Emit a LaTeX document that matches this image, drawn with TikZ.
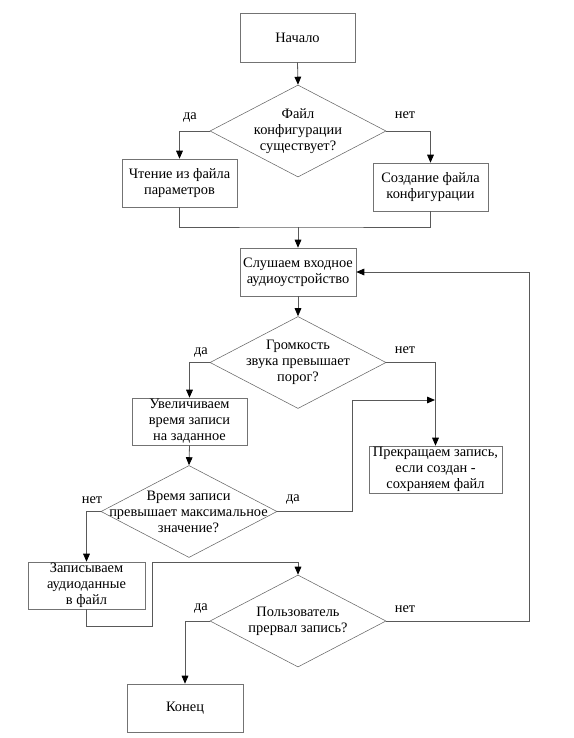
\documentclass[tikz,border=0pt]{standalone}
\usepackage{fontspec}
\setmainfont{Liberation Serif}
\usetikzlibrary{shapes.geometric,arrows.meta}
\tikzset{
  every node/.style={font=\fontsize{10.8pt}{12pt}\selectfont},
  proc/.style={draw=black!55, rectangle, align=center, inner sep=0pt, minimum width=#1},
  proc/.default={115*0.75pt},
  dia/.style={draw=black!60, diamond, inner sep=0pt, minimum width={176*0.75pt}, minimum height={92*0.75pt}},
  dtext/.style={align=center, inner sep=0pt},
  lbl/.style={inner sep=0pt},
  conn/.style={draw=black!65, line width=0.6pt},
  arr/.style={conn, -{Triangle[length=6pt,width=5pt,black]}}
}
\begin{document}
\begin{tikzpicture}[x=0.75pt,y=-0.75pt]
\useasboundingbox (0,0) rectangle (574,738);
\fill[white] (0,0) rectangle (574,738);
% nodes
\node[proc, minimum height={49*0.75pt}] (start) at (297.5,37.5) {Начало};
\node[dia] (d1) at (298,131) {};
\node[dtext] (d1t) at (298,131) {Файл\\конфигурации\\существует?};
\node[proc, minimum height={48*0.75pt}] (read) at (179.5,183) {Чтение из файла\\параметров};
\node[proc, minimum height={48*0.75pt}] (create) at (430.5,187) {Создание файла\\конфигурации};
\node[proc={116*0.75pt}, minimum height={48*0.75pt}] (listen) at (298,272) {Слушаем входное\\аудиоустройство};
\node[dia] (d2) at (298,362.5) {};
\node[dtext] (d2t) at (298,362) {Громкость\\звука превышает\\порог?};
\node[proc, minimum height={47*0.75pt}] (incr) at (189.5,421.5) {Увеличиваем\\время записи\\на заданное};
\node[proc={133*0.75pt}, minimum height={47*0.75pt}] (stop) at (435.5,469.5) {Прекращаем запись,\\если создан -\\сохраняем файл};
\node[dia] (d3) at (189,511.5) {};
\node[dtext] (d3t) at (188.5,512) {Время записи\\превышает максимальное\\значение?};
\node[proc={117*0.75pt}, minimum height={47*0.75pt}] (write) at (86.5,585.5) {Записываем\\аудиоданные\\в файл};
\node[dia] (d4) at (298,621) {};
\node[dtext] (d4t) at (298,621.5) {Пользователь\\прервал запись?};
\node[proc={116*0.75pt}, minimum height={48*0.75pt}] (end) at (185,708) {Конец};
% labels
\node[lbl] (l1y) at (190,118) {да};
\node[lbl] (l1n) at (405,115) {нет};
\node[lbl] (l2y) at (201,353) {да};
\node[lbl] (l2n) at (405,350) {нет};
\node[lbl] (l3n) at (92,500) {нет};
\node[lbl] (l3y) at (293,500) {да};
\node[lbl] (l4y) at (201,609) {да};
\node[lbl] (l4n) at (405,609) {нет};
% coordinates
\coordinate (m1) at (298,227);
\coordinate (j1) at (435,400);
\coordinate (w1) at (152,626);
\coordinate (w2) at (152,562);
\coordinate (r1) at (529,621);
% connectors
\draw[arr] (start.south) -- (d1.north);
\draw[arr] (d1.west) -| (read.north);
\draw[arr] (d1.east) -| (create.north);
\draw[conn] (read.south) |- (m1) -| (create.south);
\draw[arr] (m1) -- (listen.north);
\draw[arr] (listen.south) -- (d2.north);
\draw[arr] (d2.west) -| (incr.north);
\draw[arr] (d2.east) -| (stop.north);
\draw[arr] (incr.south) -- (d3.north);
\draw[arr] (d3.east) -| (352,400) -- (j1);
\draw[arr] (d3.west) -| (write.north);
\draw[arr] (write.south) |- (w1) -- (w2) -| (d4.north);
\draw[arr] (d4.west) -| (end.north);
\draw[arr] (d4.east) -- (r1) |- (listen.east);
\end{tikzpicture}
\end{document}
